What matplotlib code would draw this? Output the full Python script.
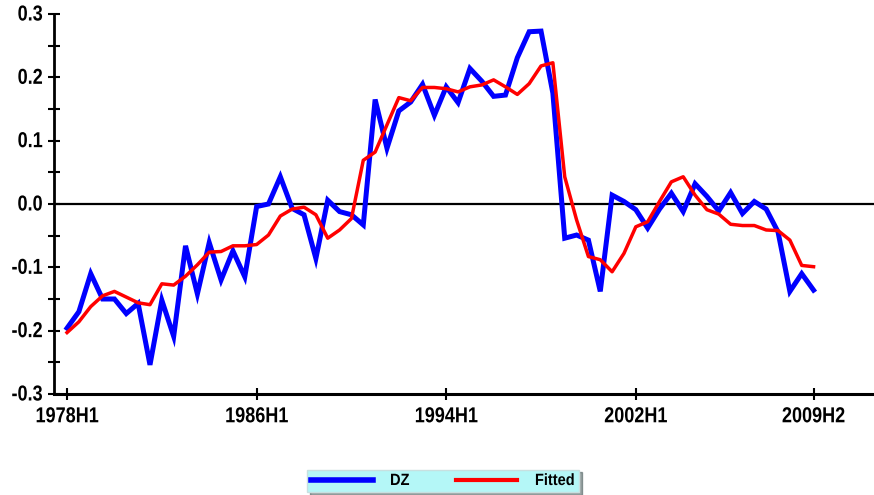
import matplotlib
matplotlib.use("Agg")
import matplotlib.pyplot as plt
from matplotlib.ticker import MultipleLocator
from matplotlib import patheffects
from matplotlib.transforms import Affine2D
import numpy as np

plt.rcParams['font.family'] = ['Liberation Sans', 'DejaVu Sans']

# Half-year periods 1978H1 .. 2009H2 (64 points)
periods = [f"{y}H{h}" for y in range(1978, 2010) for h in (1, 2)]

dz = [-0.196, -0.170, -0.110, -0.150, -0.150, -0.173, -0.157, -0.254,
      -0.152, -0.209, -0.066, -0.142, -0.061, -0.120, -0.074, -0.115,
      -0.004, 0.000, 0.043, -0.007, -0.017, -0.086, 0.006, -0.012,
      -0.017, -0.033, 0.165, 0.088, 0.147, 0.161, 0.189, 0.140,
      0.185, 0.160, 0.214, 0.194, 0.170, 0.172, 0.231, 0.272,
      0.273, 0.175, -0.054, -0.049, -0.057, -0.138, 0.014, 0.004,
      -0.009, -0.038, -0.008, 0.017, -0.012, 0.032, 0.012, -0.011,
      0.018, -0.015, 0.004, -0.008, -0.044, -0.138, -0.110, -0.136]

fitted = [-0.203, -0.186, -0.162, -0.145, -0.138, -0.147, -0.156, -0.159,
          -0.126, -0.128, -0.114, -0.096, -0.076, -0.075, -0.066, -0.066,
          -0.064, -0.049, -0.019, -0.008, -0.005, -0.017, -0.054, -0.041,
          -0.023, 0.069, 0.082, 0.125, 0.168, 0.163, 0.184, 0.184,
          0.182, 0.177, 0.185, 0.188, 0.196, 0.185, 0.173, 0.190,
          0.218, 0.223, 0.043, -0.025, -0.083, -0.088, -0.107, -0.078,
          -0.036, -0.028, 0.004, 0.035, 0.043, 0.014, -0.009, -0.016,
          -0.032, -0.034, -0.034, -0.041, -0.042, -0.057, -0.097, -0.099]

tick_labels = ["1978H1", "1986H1", "1994H1", "2002H1", "2009H2"]


class VStretch(patheffects.AbstractPathEffect):
    """Stretch glyphs vertically about their baseline (tall, narrow look)."""
    def __init__(self, sy):
        super().__init__()
        self.sy = sy

    def draw_path(self, renderer, gc, tpath, affine, rgbFace=None):
        renderer.draw_path(gc, tpath, Affine2D().scale(1, self.sy) + affine,
                           rgbFace)


x = np.arange(len(periods))
tick_pos = [periods.index(t) for t in tick_labels]

fig = plt.figure(figsize=(8.74, 4.95), dpi=100)
ax = fig.add_axes([54/874, 1-394/495, 1-54/874, (394-14)/495])

ax.axhline(0, color='black', lw=1.6, zorder=1)
l1, = ax.plot(x, dz, color='#0000ff', lw=3.6, label='DZ', zorder=2,
              solid_joinstyle='miter')
l2, = ax.plot(x, fitted, color='#ff0000', lw=2.5, label='Fitted', zorder=3)

ax.set_xlim(-1.1, 68.1)
ax.set_ylim(-0.3, 0.3)
ax.set_xticks(tick_pos)
ax.set_xticklabels(tick_labels)
ax.yaxis.set_major_locator(MultipleLocator(0.1))
ax.yaxis.set_minor_locator(MultipleLocator(0.05))
ax.set_yticklabels([f"{v:.1f}" for v in ax.get_yticks()])

for s in ('top', 'right'):
    ax.spines[s].set_visible(False)
ax.spines['left'].set_linewidth(2)
ax.spines['bottom'].set_linewidth(2.2)

ax.tick_params(axis='x', direction='inout', length=8, width=1.5, pad=7,
               labelsize=13)
ax.tick_params(axis='y', which='major', direction='inout', length=8, width=1.5,
               pad=4, labelsize=13)
ax.tick_params(axis='y', which='minor', direction='inout', length=8, width=1.5)
stretch = [VStretch(1.2)]
for lab in ax.get_xticklabels() + ax.get_yticklabels():
    lab.set_fontweight('bold')
    lab.set_path_effects(stretch)

leg = fig.legend(handles=[l1, l2], labels=['DZ', 'Fitted'], ncol=2,
                 loc='center', bbox_to_anchor=(443/874, 1-481/495),
                 frameon=True, fancybox=False, shadow=True,
                 prop={'weight': 'bold', 'size': 10.5},
                 handlelength=4.2, columnspacing=3.2, handletextpad=1.2,
                 borderpad=0.3)
leg.get_frame().set_facecolor('#b4f7f7')
leg.get_frame().set_edgecolor('#c8e0e0')
leg.get_frame().set_alpha(1)
leg.legend_handles[0].set_linewidth(4)
leg.legend_handles[1].set_linewidth(3)
for t in leg.get_texts():
    t.set_path_effects([VStretch(1.12)])

fig.savefig('out.png', dpi=100)
